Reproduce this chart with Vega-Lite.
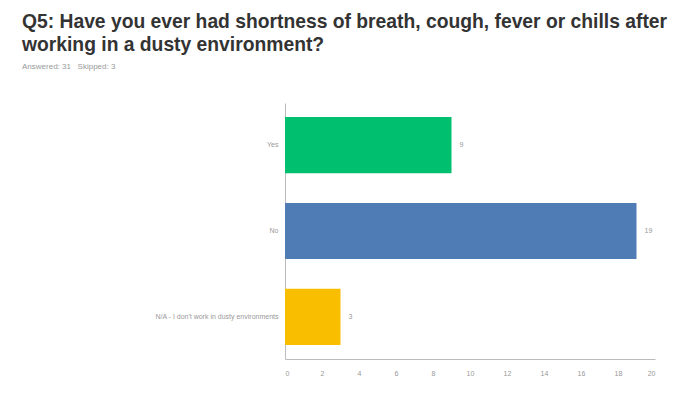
{
  "$schema": "https://vega.github.io/schema/vega-lite/v6.json",
  "width": 370,
  "height": 256,
  "autosize": {"type": "none"},
  "padding": {"left": 285, "top": 103, "right": 27, "bottom": 50},
  "background": "#FFFFFF",
  "config": {"view": {"stroke": null}, "font": "Liberation Sans"},
  "title": {
    "text": ["Q5: Have you ever had shortness of breath, cough, fever or chills after", "working in a dusty environment?"],
    "subtitle": "Answered: 31\u00a0\u00a0\u00a0Skipped: 3",
    "anchor": "start",
    "frame": "group",
    "dx": -263,
    "offset": 32,
    "font": "Liberation Sans",
    "fontSize": 19.3,
    "fontWeight": "bold",
    "color": "#333333",
    "lineHeight": 23,
    "subtitleFont": "Liberation Sans",
    "subtitleFontSize": 8,
    "subtitleColor": "#999999",
    "subtitlePadding": 8
  },
  "data": {
    "values": [
      {"answer": "Yes", "count": 9},
      {"answer": "No", "count": 19},
      {"answer": "N/A - I don't work in dusty environments", "count": 3}
    ]
  },
  "encoding": {
    "y": {
      "field": "answer",
      "type": "nominal",
      "sort": null,
      "scale": {"paddingInner": 0.345, "paddingOuter": 0.164},
      "axis": {
        "title": null,
        "ticks": false,
        "domainColor": "#bbbbbb",
        "labelColor": "#999999",
        "labelFontSize": 7,
        "labelPadding": 7,
        "labelLimit": 200
      }
    },
    "x": {
      "field": "count",
      "type": "quantitative",
      "scale": {"domain": [0, 20], "nice": false},
      "axis": {
        "title": null,
        "values": [0, 2, 4, 6, 8, 10, 12, 14, 16, 18, 20],
        "grid": false,
        "ticks": false,
        "domainColor": "#bbbbbb",
        "labelColor": "#999999",
        "labelFontSize": 7,
        "labelPadding": 10
      }
    }
  },
  "layer": [
    {
      "mark": {"type": "bar"},
      "encoding": {
        "color": {
          "field": "answer",
          "type": "nominal",
          "legend": null,
          "scale": {
            "domain": ["Yes", "No", "N/A - I don't work in dusty environments"],
            "range": ["#00BF6F", "#507CB6", "#F9BE00"]
          }
        }
      }
    },
    {
      "mark": {"type": "text", "align": "left", "dx": 8, "fontSize": 7, "color": "#999999"},
      "encoding": {"text": {"field": "count", "type": "quantitative"}}
    }
  ]
}
